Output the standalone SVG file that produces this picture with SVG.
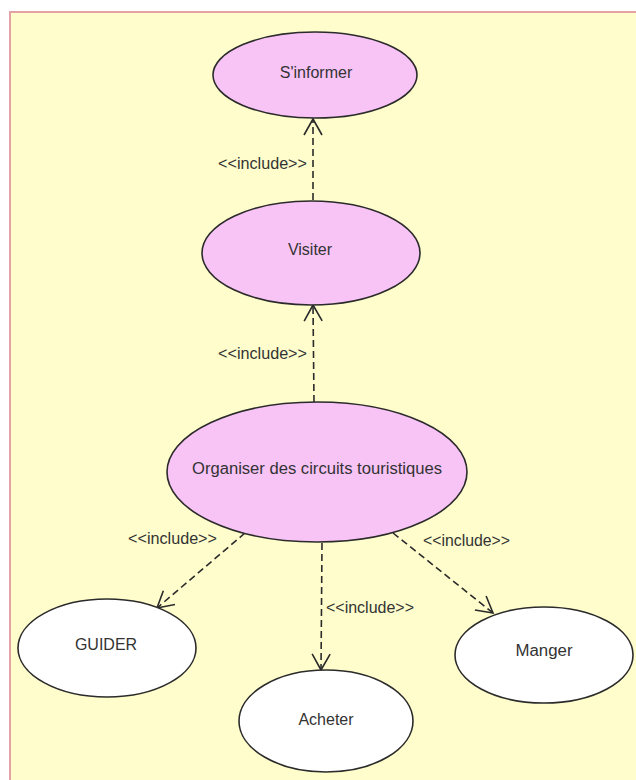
<svg xmlns="http://www.w3.org/2000/svg" width="636" height="780" viewBox="0 0 636 780">
<style>
.uc{stroke:#2b2b2b;stroke-width:1.6}
.pink{fill:#f8c4f6}
.white{fill:#ffffff}
text{font-family:"Liberation Sans",Arial,sans-serif;font-size:16px;fill:#333333}
.c{text-anchor:middle}
.conn{fill:none;stroke:#2b2b2b;stroke-width:1.6;stroke-dasharray:7 4}
</style>
<defs>
<marker id="open" markerUnits="userSpaceOnUse" markerWidth="24" markerHeight="24" viewBox="-20 -12 24 24" refX="0" refY="0" orient="auto">
<path d="M -16 -9 L 0 0 L -16 9" fill="none" stroke="#2b2b2b" stroke-width="1.6"/>
</marker>
</defs>
<rect x="0" y="0" width="636" height="780" fill="#ffffff"/>
<rect x="10" y="12" width="640" height="780" fill="#fffdcc" stroke="#e2a2a6" stroke-width="2"/>

<g id="connectors">
<path class="conn" d="M 313 200 L 313 119" marker-end="url(#open)"/>
<text x="218" y="169" textLength="89" lengthAdjust="spacingAndGlyphs">&lt;&lt;include&gt;&gt;</text>
<path class="conn" d="M 314 402 L 313 305" marker-end="url(#open)"/>
<text x="218" y="359" textLength="89" lengthAdjust="spacingAndGlyphs">&lt;&lt;include&gt;&gt;</text>
<path class="conn" d="M 245 533 L 157 608" marker-end="url(#open)"/>
<text x="128" y="544" textLength="89" lengthAdjust="spacingAndGlyphs">&lt;&lt;include&gt;&gt;</text>
<path class="conn" d="M 322 543 L 321 670" marker-end="url(#open)"/>
<text x="326" y="613" textLength="88" lengthAdjust="spacingAndGlyphs">&lt;&lt;include&gt;&gt;</text>
<path class="conn" d="M 393 533 L 493 613" marker-end="url(#open)"/>
<text x="423" y="546" textLength="87" lengthAdjust="spacingAndGlyphs">&lt;&lt;include&gt;&gt;</text>
</g>

<g id="sinformer">
<ellipse class="uc pink" cx="315" cy="75" rx="102" ry="43"/>
<text class="c" x="316" y="78">S'informer</text>
</g>
<g id="visiter">
<ellipse class="uc pink" cx="311" cy="253" rx="109" ry="52"/>
<text class="c" x="310" y="255">Visiter</text>
</g>
<g id="organiser">
<ellipse class="uc pink" cx="317" cy="472" rx="150" ry="70"/>
<text class="c" x="317" y="474" textLength="250" lengthAdjust="spacingAndGlyphs">Organiser des circuits touristiques</text>
</g>
<g id="guider">
<ellipse class="uc white" cx="107" cy="648" rx="89" ry="49"/>
<text class="c" x="106" y="650">GUIDER</text>
</g>
<g id="acheter">
<ellipse class="uc white" cx="326" cy="721" rx="87" ry="51"/>
<text class="c" x="326" y="725">Acheter</text>
</g>
<g id="manger">
<ellipse class="uc white" cx="544" cy="655" rx="89" ry="48"/>
<text class="c" x="544" y="656" textLength="57" lengthAdjust="spacingAndGlyphs">Manger</text>
</g>
</svg>
